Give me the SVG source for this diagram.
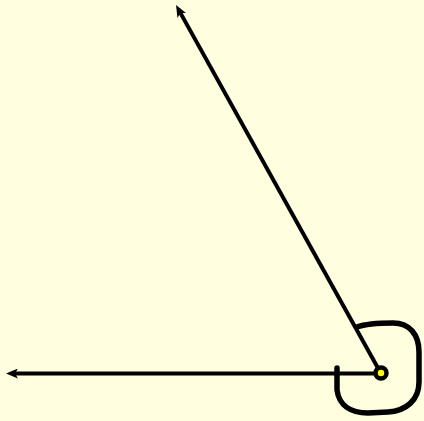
<svg xmlns="http://www.w3.org/2000/svg" width="424" height="421" viewBox="0 0 424 421">
<style>
.ray{stroke:#000;stroke-width:4;fill:none;marker-end:url(#ah)}
.loop{stroke:#000;stroke-width:5.5;fill:none;stroke-linecap:round;stroke-linejoin:round}
.vtx{fill:#ffff00;stroke:#000;stroke-width:4.5}
</style>
<defs>
<marker id="ah" markerUnits="userSpaceOnUse" viewBox="0 0 12 10" markerWidth="12" markerHeight="10" refX="3" refY="5" orient="auto">
<path d="M0,0 L12,5 L0,10 L3,5 z" fill="#000"/>
</marker>
</defs>
<rect width="424" height="421" fill="#ffffe0"/>
<g id="connectors">
<line class="ray" x1="381" y1="373.5" x2="180.4" y2="12.9"/>
<line class="ray" x1="381" y1="373.5" x2="15" y2="373.5"/>
<path class="loop" d="M357,327 C365,324 380,323 393,323 C410,323 419,335 419,352 L419,382 C419,400 406,411 388,412 L368,413 C350,413 339,405 337,390 L337,368"/>
</g>
<g id="vertex">
<circle class="vtx" cx="381" cy="373" r="5.5"/>
</g>
</svg>
